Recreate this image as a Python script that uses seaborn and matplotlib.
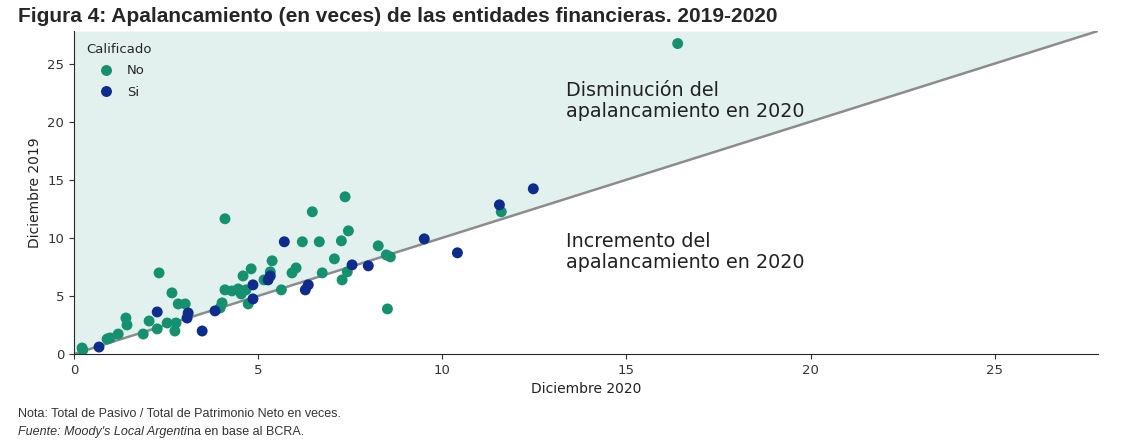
import matplotlib
matplotlib.use("Agg")
import matplotlib.pyplot as plt
import seaborn as sns
import pandas as pd

# apalancamiento (pasivo / patrimonio neto) por entidad
no_2020 = [16.39, 11.60, 7.36, 6.47, 4.10, 7.45, 7.26, 6.20, 6.66, 8.26,
           8.48, 8.59, 7.07, 5.38, 4.81, 5.33, 6.03, 5.92, 4.59, 6.74,
           7.42, 7.28, 2.31, 5.16, 5.63, 4.10, 4.29, 4.46, 4.54, 4.67,
           4.02, 3.97, 4.73, 2.66, 2.83, 3.02, 1.41, 1.44, 2.04, 2.53,
           2.77, 2.26, 1.88, 2.74, 1.20, 0.90, 0.98, 0.22, 0.24, 8.51]
no_2019 = [26.72, 12.24, 13.53, 12.24, 11.64, 10.60, 9.74, 9.66, 9.66, 9.31,
           8.53, 8.36, 8.19, 8.02, 7.33, 7.07, 7.41, 6.98, 6.72, 6.98,
           7.07, 6.38, 6.98, 6.38, 5.52, 5.52, 5.43, 5.60, 5.17, 5.52,
           4.40, 3.97, 4.31, 5.26, 4.31, 4.31, 3.10, 2.50, 2.84, 2.67,
           2.67, 2.16, 1.72, 1.98, 1.72, 1.29, 1.38, 0.52, 0.34, 3.88]
si_2020 = [12.47, 11.55, 10.41, 9.51, 7.99, 7.55, 6.36, 6.28, 5.71, 5.33,
           5.27, 4.86, 4.86, 3.83, 3.10, 3.07, 3.48, 2.26, 0.68]
si_2019 = [14.22, 12.84, 8.71, 9.91, 7.59, 7.67, 5.95, 5.52, 9.66, 6.72,
           6.38, 5.95, 4.74, 3.71, 3.53, 3.10, 1.98, 3.62, 0.60]

df = pd.DataFrame({
    "dic2020": no_2020 + si_2020,
    "dic2019": no_2019 + si_2019,
    "Calificado": ["No"] * len(no_2020) + ["Si"] * len(si_2020),
})

sns.set_style("ticks")
plt.rcParams["font.family"] = ["DejaVu Sans"]

fig = plt.figure(figsize=(11.31, 4.48), dpi=100)
ax = fig.add_axes([0.0654, 0.2098, 0.9054, 0.7210])

lim = 27.8
ax.fill_between([0, lim], [0, lim], [lim, lim], color="#e2f1ee", zorder=0, lw=0)
ax.plot([0, lim], [0, lim], color="#8c8c8c", lw=1.8, zorder=1)

sns.scatterplot(data=df, x="dic2020", y="dic2019", hue="Calificado",
                palette={"No": "#16916f", "Si": "#0d2c8c"},
                s=62, linewidth=0, ax=ax, zorder=3)

ax.set_xlim(0, lim)
ax.set_ylim(0, lim)
ax.set_xticks([0, 5, 10, 15, 20, 25])
ax.set_yticks([0, 5, 10, 15, 20, 25])
ax.tick_params(labelsize=9.5, colors="#333333")
ax.set_xlabel("Diciembre 2020", fontsize=10, color="#222222")
ax.set_ylabel("Diciembre 2019", fontsize=10, color="#222222")
sns.despine(ax=ax)

ax.legend(title="Calificado", loc="upper left", frameon=False,
          fontsize=9.5, title_fontsize=9.5, bbox_to_anchor=(0.0, 1.0),
          handletextpad=0.6, labelspacing=0.65)

ax.text(13.35, 21.8, "Disminución del\napalancamiento en 2020",
        fontsize=13.8, color="#222222", va="center", linespacing=1.15)
ax.text(13.35, 8.8, "Incremento del\napalancamiento en 2020",
        fontsize=13.8, color="#222222", va="center", linespacing=1.15)

fig.text(0.016, 0.963, "Figura 4: Apalancamiento (en veces) de las entidades financieras. 2019-2020",
         fontsize=15, fontweight="bold", family=["Liberation Sans", "DejaVu Sans"],
         va="center")

narrow = ["Liberation Sans Narrow", "Liberation Sans", "DejaVu Sans"]
fig.text(0.016, 0.077, "Nota: Total de Pasivo / Total de Patrimonio Neto en veces.",
         fontsize=9, family=narrow, color="#333333", va="center")
t1 = fig.text(0.016, 0.035, "Fuente: Moody's Local Argenti",
              fontsize=9, family=narrow, style="italic", color="#333333", va="center")
ax.annotate("na en base al BCRA.", xy=(1, 0), xycoords=t1, va="bottom",
            fontsize=9, family=narrow, color="#333333", annotation_clip=False)

fig.savefig("out.png", dpi=100)
